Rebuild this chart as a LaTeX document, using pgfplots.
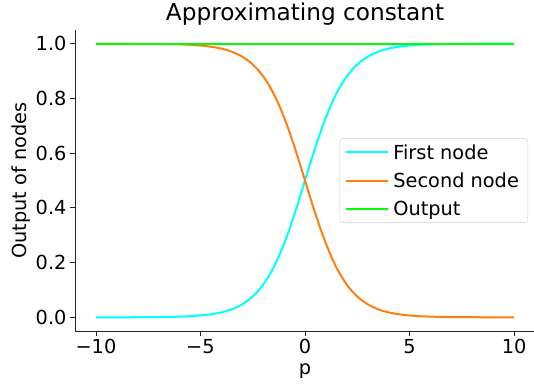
\documentclass[border=0pt]{standalone}
\usepackage{pgfplots}
\pgfplotsset{compat=1.18}
\usepackage{fontspec}
\setmainfont{DejaVu Sans}

\definecolor{nodeone}{RGB}{0,255,255}
\definecolor{nodetwo}{RGB}{255,127,14}
\definecolor{outcol}{RGB}{0,255,0}

\begin{document}
\begin{tikzpicture}
\useasboundingbox (0,0) rectangle (534bp,387bp);
\begin{axis}[
  at={(75bp,56bp)}, anchor=south west,
  scale only axis, width=460bp, height=301bp,
  xmin=-11, xmax=11, ymin=-0.05, ymax=1.05,
  axis x line*=bottom, axis y line*=left,
  axis line style={line width=0.8bp, black!85},
  tick align=outside, major tick length=5bp,
  tick style={line width=0.8bp, black!85},
  xtick={-10,-5,0,5,10},
  xticklabels={−10,−5,0,5,10},
  ytick={0,0.2,0.4,0.6,0.8,1.0},
  yticklabels={0.0,0.2,0.4,0.6,0.8,1.0},
  ticklabel style={font=\fontsize{19.4}{23}\selectfont},
  xlabel={p}, ylabel={Output of nodes},
  label style={font=\fontsize{19.4}{23}\selectfont},
  xlabel style={yshift=-3bp},
  ylabel style={yshift=-2bp},
  title={Approximating constant},
  title style={font=\fontsize{23.3}{27}\selectfont, yshift=-5bp},
  legend style={at={(0.985,0.5)}, anchor=east,
    font=\fontsize{19.4}{23}\selectfont,
    draw=black!20, rounded corners=3bp, fill=white,
    row sep=10bp, inner xsep=5bp, inner ysep=5bp,
    nodes={inner ysep=1bp, inner xsep=4bp}},
  legend cell align=left,
  legend image code/.code={\draw[#1] (0bp,0bp) -- (40bp,0bp); \path (0bp,0bp) -- (42.5bp,0bp);},
]
% first node
\addplot[color=nodeone, solid, line width=2bp] coordinates {
(-10,0.0000454) (-9.5,0.0000749) (-9,0.0001234) (-8.5,0.0002034)
(-8,0.0003354) (-7.5,0.0005528) (-7,0.0009111) (-6.5,0.0015011)
(-6,0.0024726) (-5.5,0.0040701) (-5,0.0066929) (-4.75,0.0085776)
(-4.5,0.0109869) (-4.25,0.0140636) (-4,0.0179862) (-3.75,0.0229774)
(-3.5,0.0293122) (-3.25,0.0373269) (-3,0.0474259) (-2.75,0.0600867)
(-2.5,0.0758582) (-2.25,0.0953495) (-2,0.1192029) (-1.75,0.1480472)
(-1.5,0.1824255) (-1.25,0.2227001) (-1,0.2689414) (-0.75,0.3208213)
(-0.5,0.3775407) (-0.25,0.4378235) (0,0.5) (0.25,0.5621765)
(0.5,0.6224593) (0.75,0.6791787) (1,0.7310586) (1.25,0.7772999)
(1.5,0.8175745) (1.75,0.8519528) (2,0.8807971) (2.25,0.9046505)
(2.5,0.9241418) (2.75,0.9399133) (3,0.9525741) (3.25,0.9626731)
(3.5,0.9706878) (3.75,0.9770226) (4,0.9820138) (4.25,0.9859364)
(4.5,0.9890131) (4.75,0.9914224) (5,0.9933071) (5.5,0.9959299)
(6,0.9975274) (6.5,0.9984989) (7,0.9990889) (7.5,0.9994472)
(8,0.9996646) (8.5,0.9997966) (9,0.9998766) (9.5,0.9999251)
(10,0.9999546)
};
\addlegendentry{First node}
% second node
\addplot[color=nodetwo, solid, line width=2bp] coordinates {
(-10,0.9999546) (-9.5,0.9999251) (-9,0.9998766) (-8.5,0.9997966)
(-8,0.9996646) (-7.5,0.9994472) (-7,0.9990889) (-6.5,0.9984989)
(-6,0.9975274) (-5.5,0.9959299) (-5,0.9933071) (-4.75,0.9914224)
(-4.5,0.9890131) (-4.25,0.9859364) (-4,0.9820138) (-3.75,0.9770226)
(-3.5,0.9706878) (-3.25,0.9626731) (-3,0.9525741) (-2.75,0.9399133)
(-2.5,0.9241418) (-2.25,0.9046505) (-2,0.8807971) (-1.75,0.8519528)
(-1.5,0.8175745) (-1.25,0.7772999) (-1,0.7310586) (-0.75,0.6791787)
(-0.5,0.6224593) (-0.25,0.5621765) (0,0.5) (0.25,0.4378235)
(0.5,0.3775407) (0.75,0.3208213) (1,0.2689414) (1.25,0.2227001)
(1.5,0.1824255) (1.75,0.1480472) (2,0.1192029) (2.25,0.0953495)
(2.5,0.0758582) (2.75,0.0600867) (3,0.0474259) (3.25,0.0373269)
(3.5,0.0293122) (3.75,0.0229774) (4,0.0179862) (4.25,0.0140636)
(4.5,0.0109869) (4.75,0.0085776) (5,0.0066929) (5.5,0.0040701)
(6,0.0024726) (6.5,0.0015011) (7,0.0009111) (7.5,0.0005528)
(8,0.0003354) (8.5,0.0002034) (9,0.0001234) (9.5,0.0000749)
(10,0.0000454)
};
\addlegendentry{Second node}
% output of the network
\addplot[color=outcol, solid, line width=2bp] coordinates {
(-10,1) (-7.5,1) (-5,1) (-2.5,1) (0,1) (2.5,1) (5,1) (7.5,1) (10,1)
};
\addlegendentry{Output}
\end{axis}
\end{tikzpicture}
\end{document}
